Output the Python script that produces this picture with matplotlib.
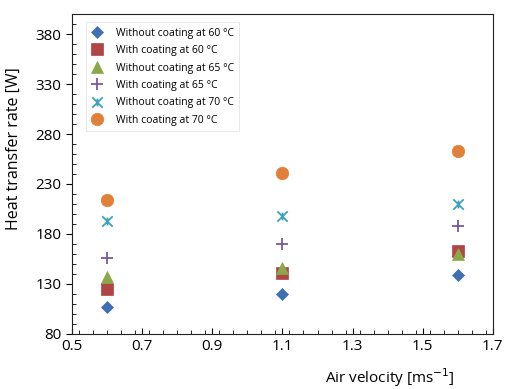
import matplotlib.pyplot as plt
from matplotlib.ticker import MultipleLocator
from matplotlib.path import Path

plt.rcParams['font.family'] = ['Open Sans', 'DejaVu Sans']

velocity = [0.6, 1.1, 1.6]
labels = ['Without coating at 60 \u00b0C', 'With coating at 60 \u00b0C',
          'Without coating at 65 \u00b0C', 'With coating at 65 \u00b0C',
          'Without coating at 70 \u00b0C', 'With coating at 70 \u00b0C']
q_nc60 = [107, 120, 139]
q_c60 = [125, 141, 163]
q_nc65 = [137, 146, 160]
q_c65 = [156, 170, 188]
q_nc70 = [193, 198, 210]
q_c70 = [214, 241, 263]

# star marker: an x with a short vertical bar through it
star = Path([(-1, -1), (1, 1), (-1, 1), (1, -1), (0, -0.75), (0, 0.75)],
            [Path.MOVETO, Path.LINETO] * 3)

series = [q_nc60, q_c60, q_nc65, q_c65, q_nc70, q_c70]
markers = ['D', 's', '^', '+', star, 'o']
colors = ['#3f6fb0', '#b04545', '#8aa84a', '#7a5a9e', '#3fa3c0', '#e0803a']
sizes = [6.5, 8.5, 8.5, 8, 7.5, 9]

fig = plt.figure(figsize=(5.05, 3.89), dpi=100)
ax = fig.add_axes([0.1426, 0.1414, 0.8334, 0.8226])

for vals, m, c, s, lab in zip(series, markers, colors, sizes, labels):
    thin = m is star or m == '+'
    ax.plot(velocity, vals, linestyle='none', marker=m, color=c, markersize=s,
            markeredgewidth=1.3 if thin else 0.5, label=lab)

ax.set_xlim(0.5, 1.7)
ax.set_ylim(80, 400)
ax.set_xticks([0.5, 0.7, 0.9, 1.1, 1.3, 1.5, 1.7])
ax.set_yticks([80, 130, 180, 230, 280, 330, 380])
ax.xaxis.set_minor_locator(MultipleLocator(0.04))
ax.yaxis.set_minor_locator(MultipleLocator(10))
ax.tick_params(axis='both', which='major', labelsize=11, length=4, width=0.8)
ax.tick_params(axis='x', which='both', direction='in', top=False)
ax.tick_params(axis='y', which='major', direction='out', right=False)
ax.tick_params(axis='y', which='minor', direction='in', right=False, length=3)
ax.tick_params(axis='x', which='minor', length=3)
for sp in ax.spines.values():
    sp.set_linewidth(0.8)
    sp.set_color('#222222')

ax.set_xlabel('Air velocity [ms$^{-1}$]', fontsize=11)
ax.xaxis.set_label_coords(0.755, -0.1)
ax.set_ylabel('Heat transfer rate [W]', fontsize=11.5)
ax.yaxis.set_label_coords(-0.12, 0.58)

leg = ax.legend(loc='upper left', fontsize=7.5, frameon=True, fancybox=False,
                edgecolor='#dddddd', borderpad=0.5, labelspacing=0.62,
                handlelength=1.2, handletextpad=1.2,
                bbox_to_anchor=(0.02, 0.99))
leg.get_frame().set_linewidth(0.6)

fig.savefig('out.png', dpi=100)
